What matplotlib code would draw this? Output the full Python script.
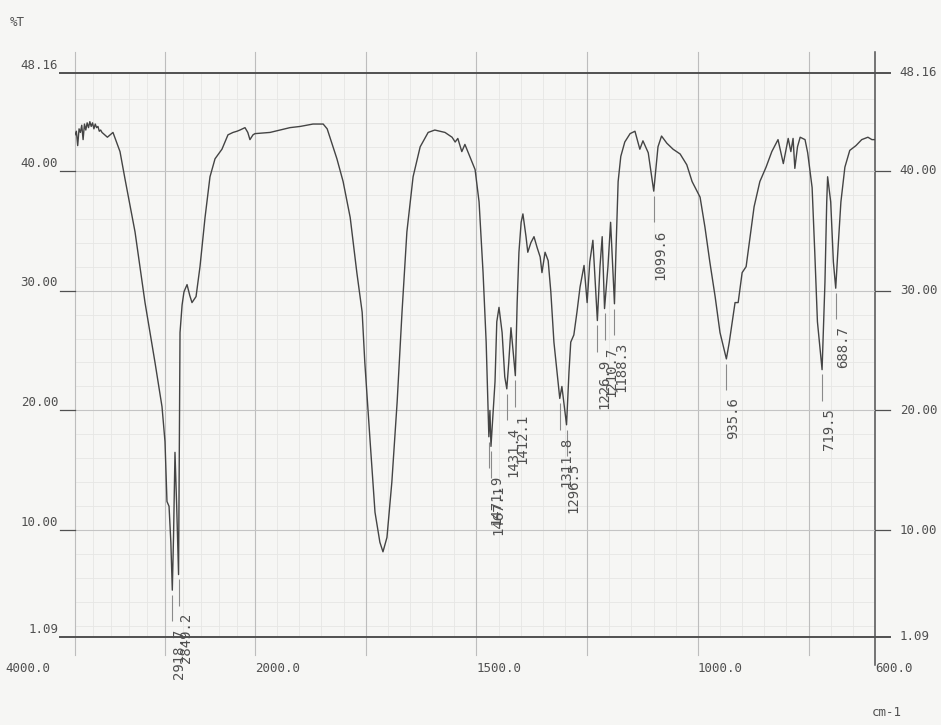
import numpy as np
import matplotlib
matplotlib.use("Agg")
import matplotlib.pyplot as plt
import matplotlib.transforms as mtransforms

# IR spectrum, wavenumber (cm-1) vs transmittance (%T)
wavenumber = [4000, 3985, 3970, 3955, 3940, 3925, 3910, 3895, 3880, 3865,
              3850, 3835, 3820, 3805, 3790, 3775, 3760, 3745, 3730, 3715,
              3700, 3670, 3640, 3578, 3500, 3444, 3333, 3222, 3111, 3033,
              3000, 2978, 2955, 2935, 2918.7, 2905, 2889, 2870, 2849.2, 2840,
              2833, 2810, 2789, 2755, 2725, 2700, 2655, 2611, 2555, 2500,
              2444, 2367, 2300, 2244, 2200, 2167, 2111, 2080, 2056, 2022,
              2000, 1966, 1921, 1898, 1869, 1846, 1837, 1815, 1801, 1785,
              1770, 1758, 1752, 1740, 1729, 1718, 1711, 1702, 1691, 1679,
              1668, 1657, 1643, 1627, 1609, 1594, 1571, 1555, 1548, 1542,
              1533, 1526, 1515, 1503, 1494, 1485, 1478, 1474, 1471.9, 1469.5,
              1467.1, 1458, 1454, 1449, 1442, 1436, 1431.4, 1427, 1422, 1418,
              1412.1, 1408, 1404, 1399, 1395, 1388, 1384, 1377, 1370, 1363,
              1356, 1352, 1345, 1338, 1332, 1325, 1311.8, 1307, 1296.5, 1291,
              1287, 1280, 1273, 1266, 1257, 1250, 1244, 1237, 1226.9, 1221,
              1216, 1210.7, 1203, 1197, 1188.3, 1185, 1180, 1174, 1165, 1153,
              1142, 1131, 1124, 1112, 1099.6, 1090, 1082, 1070, 1056, 1040,
              1025, 1013, 995, 984, 973, 961, 950, 935.6, 929, 922,
              916, 909, 900, 891, 882, 873, 860, 846, 833, 819,
              807, 796, 790, 785, 781, 775, 769, 758, 752, 742,
              736, 730, 719.5, 713, 709, 707, 700, 694, 688.7, 684,
              677, 668, 657, 643, 630, 616, 607, 600]
transmittance = [43.0, 43.3, 42.1, 43.5, 43.2, 43.8, 42.6, 43.9, 43.4, 44.0,
                 43.6, 44.1, 43.7, 44.0, 43.5, 43.9, 43.6, 43.7, 43.3, 43.4,
                 43.2, 43.0, 42.8, 43.2, 41.6, 39.3, 34.9, 29.0, 24.0, 20.3,
                 17.4, 12.4, 12.0, 9.0, 5.0, 9.5, 16.5, 12.0, 6.3, 18.0,
                 26.5, 28.8, 29.9, 30.5, 29.6, 29.0, 29.5, 32.0, 36.1, 39.5,
                 41.0, 41.8, 43.0, 43.2, 43.3, 43.4, 43.6, 43.2, 42.6, 43.0,
                 43.1, 43.2, 43.6, 43.7, 43.9, 43.9, 43.5, 41.0, 39.1, 36.1,
                 31.5, 28.2, 24.0, 17.4, 11.5, 9.0, 8.2, 9.4, 14.0, 20.7,
                 28.2, 34.9, 39.5, 42.0, 43.2, 43.4, 43.2, 42.8, 42.4, 42.7,
                 41.6, 42.2, 41.2, 40.1, 37.4, 31.5, 25.7, 20.7, 17.8, 20.0,
                 17.0, 22.4, 27.4, 28.6, 26.5, 22.8, 21.8, 24.0, 26.9, 25.3,
                 22.9, 29.0, 33.2, 35.7, 36.4, 34.5, 33.2, 34.0, 34.5, 33.6,
                 32.8, 31.5, 33.2, 32.5, 29.9, 25.7, 21.0, 22.0, 18.8, 23.2,
                 25.7, 26.3, 28.2, 30.3, 32.1, 29.0, 32.4, 34.2, 27.5, 32.0,
                 34.5, 28.5, 32.0, 35.7, 28.9, 33.2, 39.1, 41.2, 42.4, 43.1,
                 43.3, 41.8, 42.5, 41.5, 38.3, 42.0, 42.9, 42.3, 41.8, 41.4,
                 40.5, 39.1, 37.8, 35.3, 32.4, 29.5, 26.5, 24.3, 25.7, 27.5,
                 29.0, 29.0, 31.5, 32.0, 34.5, 37.0, 39.1, 40.3, 41.6, 42.6,
                 40.6, 42.7, 41.6, 42.7, 40.2, 42.0, 42.8, 42.6, 41.5, 38.6,
                 33.2, 27.4, 23.4, 30.7, 37.4, 39.5, 37.4, 32.4, 30.2, 33.2,
                 37.4, 40.3, 41.7, 42.1, 42.6, 42.8, 42.6, 42.6]

# labelled absorption bands
peak_wn = [2918.7, 2849.2, 1471.9, 1467.1, 1431.4, 1412.1, 1311.8, 1296.5,
           1226.9, 1210.7, 1188.3, 1099.6, 935.6, 719.5, 688.7]
peak_labels = ["2918.7", "2849.2", "1471.9", "1467.1", "1431.4", "1412.1",
               "1311.8", "1296.5", "1226.9", "1210.7", "1188.3", "1099.6",
               "935.6", "719.5", "688.7"]

x_ticks = [4000, 2000, 1500, 1000, 600]
x_ticklabels = ["4000.0", "2000.0", "1500.0", "1000.0", "600.0"]
y_ticks = [48.16, 40, 30, 20, 10, 1.09]
y_ticklabels = ["48.16", "40.00", "30.00", "20.00", "10.00", "1.09"]

# chart paper: 4000-2000 is printed at a compressed scale
k = 0.2032
def forward(w):
    w = np.asarray(w, dtype=float)
    return np.where(w > 2000, 2000 + (w - 2000) * k, w)
def inverse(u):
    u = np.asarray(u, dtype=float)
    return np.where(u > 2000, 2000 + (u - 2000) / k, u)

paper = "#f6f6f4"
ink = "#505050"
font = "DejaVu Sans Mono"

fig = plt.figure(figsize=(9.41, 7.25), dpi=100, facecolor=paper)
ax = fig.add_axes([75/941, 88/725, 800/941, 564/725])
ax.set_facecolor(paper)
ax.set_xscale("function", functions=(forward, inverse))
ax.set_xlim(4000, 600)
ax.set_ylim(1.09, 48.16)
for s in ax.spines.values():
    s.set_visible(False)

# fine grid
minor_x = list(np.arange(650, 2000, 50)) + list(np.arange(2200, 4000, 200))
ax.set_xticks([])
ax.set_yticks([])
ax.set_xticks(minor_x, minor=True)
ax.set_yticks(np.arange(2, 48, 2), minor=True)
ax.tick_params(which="both", length=0, labelbottom=False, labelleft=False)
ax.grid(which="minor", color="#e6e6e4", linewidth=0.6)

# major grid lines, running a little past the frame
for w in [4000, 3000, 2000, 1750, 1500, 1250, 1000, 750]:
    ax.axvline(w, ymin=-0.032, ymax=1.037, color="#bdbdbd", linewidth=0.8, clip_on=False)
ax.axvline(600, ymin=-0.05, ymax=1.037, color=ink, linewidth=1.1, clip_on=False)
for t in [40, 30, 20, 10]:
    ax.axhline(t, color="#c4c4c4", linewidth=0.8)
    ax.axhline(t, xmin=-0.019, xmax=0, color=ink, linewidth=0.9, clip_on=False)
    ax.axhline(t, xmin=1, xmax=1.019, color=ink, linewidth=0.9, clip_on=False)
for t in [48.16, 1.09]:
    ax.axhline(t, xmin=-0.019, xmax=1.019, color=ink, linewidth=1.4, clip_on=False)

# spectrum
ax.plot(wavenumber, transmittance, color="#444444", linewidth=1.0)

# band markers and labels
for w, lab in zip(peak_wn, peak_labels):
    t = transmittance[wavenumber.index(w)]
    ax.vlines(w, t - 2.6, t - 0.4, color="#8a8a8a", linewidth=0.8)
    ax.text(w, t - 3.2, lab, rotation=90, ha="left", va="top", fontsize=10,
            family=font, color=ink, clip_on=False)

# axis labels
xtrans = mtransforms.blended_transform_factory(ax.transData, ax.transAxes)
for w, lab in zip(x_ticks, x_ticklabels):
    if w == 4000:
        tr = mtransforms.offset_copy(xtrans, fig=fig, x=-25, y=0, units="dots")
        ax.text(w, -0.055, lab, transform=tr, ha="right", va="center",
                fontsize=9, family=font, color=ink)
    else:
        ax.text(w, -0.055, lab, transform=xtrans, ha="left", va="center",
                fontsize=9, family=font, color=ink)

ytrans = mtransforms.blended_transform_factory(ax.transAxes, ax.transData)
for t, lab in zip(y_ticks, y_ticklabels):
    ax.text(-0.021, t + 0.1, lab, transform=ytrans, ha="right", va="bottom",
            fontsize=9, family=font, color=ink)
    ax.text(1.031, t, lab, transform=ytrans, ha="left", va="center",
            fontsize=9, family=font, color=ink)

fig.text(10/941, 1 - 22/725, "%T", ha="left", va="center", fontsize=9,
         family=font, color=ink)
fig.text(872/941, 1 - 712/725, "cm-1", ha="left", va="center", fontsize=9,
         family=font, color=ink)

plt.savefig("out.png", dpi=100, facecolor=paper)
